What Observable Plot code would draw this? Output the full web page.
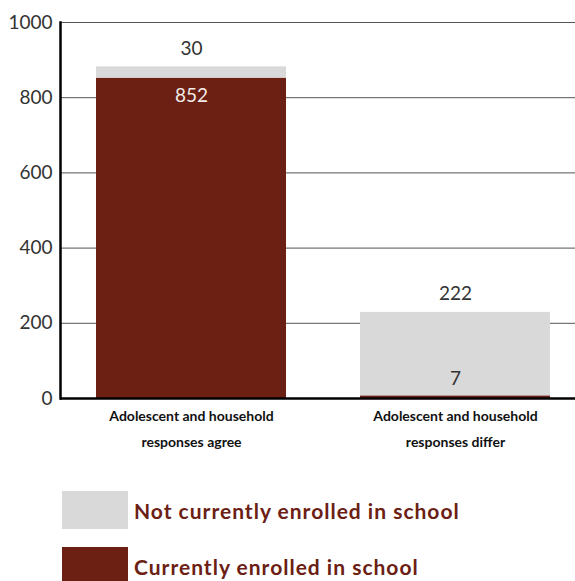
<!DOCTYPE html>
<html>
<head>
<meta charset="utf-8">
<script src="https://cdn.jsdelivr.net/npm/d3@7"></script>
<script src="https://cdn.jsdelivr.net/npm/@observablehq/plot@0.6"></script>
<style>
  html, body { margin: 0; padding: 0; background: #fff; }
  #chart svg { display: block; }
  .legend { margin-top: 26px; }
  .row { display: flex; align-items: center; height: 38px; margin-bottom: 18px; margin-left: 62px; }
  .sw { width: 66px; height: 38px; flex: none; }
  .lab { margin-left: 6px; font-family: Lato, sans-serif; font-weight: 700; font-size: 21px; letter-spacing: 1px; color: #6b2013; }
</style>
</head>
<body>
<div id="chart"></div>
<script>
const categories = ["Adolescent and household\nresponses agree", "Adolescent and household\nresponses differ"];
const series = ["Currently enrolled in school", "Not currently enrolled in school"];
const enrolled = [852, 7];
const notEnrolled = [30, 222];
const yTicks = [0, 200, 400, 600, 800, 1000];
const colors = ["#6b2013", "#d9d9d9"];

const data = [];
categories.forEach((c, i) => {
  data.push({category: c, series: series[0], value: enrolled[i]});
  data.push({category: c, series: series[1], value: notEnrolled[i]});
});

const stackOpts = {x: "category", y: "value", z: "series", order: series};
const labelOpts = {fontSize: 19, fontWeight: 400};

const chart = Plot.plot({
  width: 575,
  height: 465,
  marginLeft: 60,
  marginRight: 0,
  marginTop: 22,
  marginBottom: 67,
  style: {fontFamily: "Lato, sans-serif", background: "#fff"},
  x: {domain: categories, paddingInner: 0.28, paddingOuter: 0.115, align: 0.59, label: null},
  y: {domain: [0, 1000], label: null},
  color: {domain: series, range: colors},
  marks: [
    Plot.gridY(yTicks.filter(d => d > 0), {stroke: "#555", strokeOpacity: 1, strokeWidth: 1}),
    Plot.barY(data, Plot.stackY({...stackOpts, fill: "series"})),
    Plot.text(data, Plot.stackY2({...stackOpts, ...labelOpts,
      text: d => d.series === series[1] ? d.value : null, dy: -18, fill: "#333"})),
    Plot.text(data, Plot.stackY2({...stackOpts, ...labelOpts,
      text: d => d.series === series[0] && d.value >= 100 ? d.value : null, dy: 18, fill: "#f2ebe9"})),
    Plot.text(data, Plot.stackY2({...stackOpts, ...labelOpts,
      text: d => d.series === series[0] && d.value < 100 ? d.value : null, dy: -17, fill: "#333"})),
    Plot.ruleY([0], {stroke: "#000", strokeWidth: 2.5}),
    Plot.frame({anchor: "left", stroke: "#000", strokeWidth: 2.5}),
    Plot.axisY({ticks: yTicks, tickFormat: d3.format("d"), tickSize: 0, tickPadding: 8, fontSize: 19, fontWeight: 400, fill: "#333", label: null}),
    Plot.axisX({tickSize: 0, tickPadding: 4, fontSize: 14, fontWeight: 700, fill: "#111", lineHeight: 1.85, label: null})
  ]
});
document.getElementById("chart").appendChild(chart);

const legend = document.createElement("div");
legend.className = "legend";
[1, 0].forEach(i => {
  const row = document.createElement("div");
  row.className = "row";
  const sw = document.createElement("div");
  sw.className = "sw";
  sw.style.background = colors[i];
  const lab = document.createElement("span");
  lab.className = "lab";
  lab.textContent = series[i];
  row.appendChild(sw); row.appendChild(lab);
  legend.appendChild(row);
});
document.body.appendChild(legend);
</script>
</body>
</html>
